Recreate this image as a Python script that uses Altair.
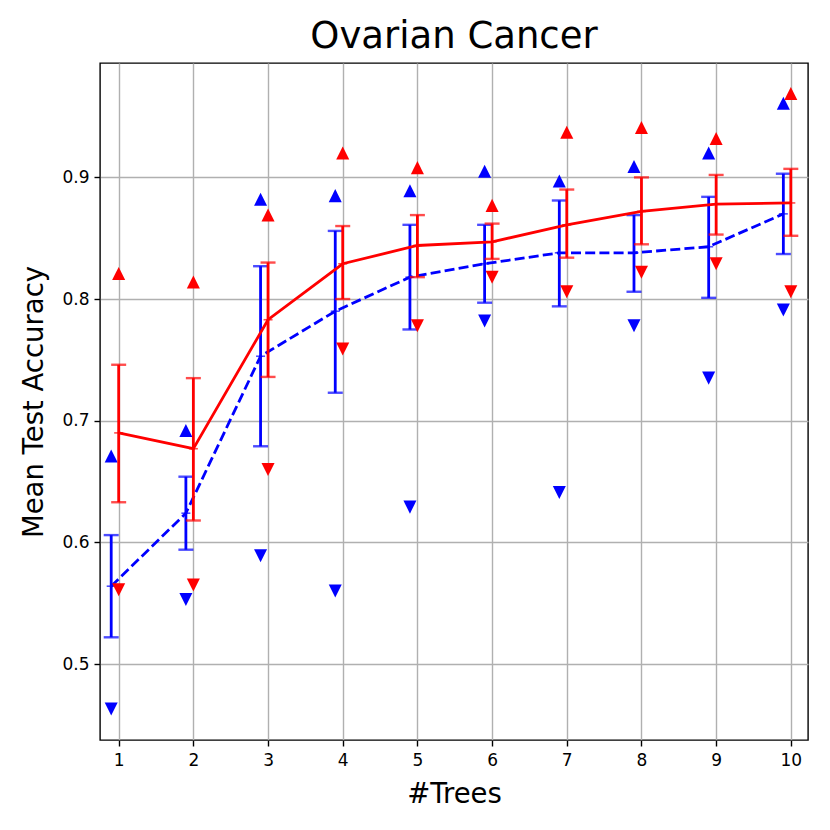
import altair as alt
import pandas as pd

trees = [1, 2, 3, 4, 5, 6, 7, 8, 9, 10]

red_mean = [0.690, 0.677, 0.783, 0.829, 0.844, 0.847, 0.861, 0.872, 0.878, 0.879]
red_lo = [0.633, 0.618, 0.736, 0.800, 0.818, 0.833, 0.834, 0.845, 0.853, 0.852]
red_hi = [0.746, 0.735, 0.830, 0.860, 0.869, 0.862, 0.890, 0.900, 0.902, 0.907]
red_max = [0.821, 0.814, 0.869, 0.920, 0.908, 0.877, 0.937, 0.941, 0.932, 0.969]
red_min = [0.561, 0.565, 0.660, 0.759, 0.778, 0.818, 0.806, 0.822, 0.829, 0.806]

blue_mean = [0.564, 0.624, 0.753, 0.790, 0.818, 0.829, 0.838, 0.838, 0.843, 0.870]
blue_lo = [0.522, 0.594, 0.679, 0.723, 0.775, 0.797, 0.794, 0.806, 0.801, 0.837]
blue_hi = [0.606, 0.654, 0.827, 0.856, 0.861, 0.861, 0.881, 0.869, 0.884, 0.903]
blue_max = [0.671, 0.692, 0.882, 0.885, 0.889, 0.905, 0.897, 0.909, 0.920, 0.961]
blue_min = [0.463, 0.553, 0.589, 0.560, 0.629, 0.782, 0.641, 0.778, 0.735, 0.791]

x_tick_values = [1, 2, 3, 4, 5, 6, 7, 8, 9, 10]
y_tick_values = [0.5, 0.6, 0.7, 0.8, 0.9]

BLUE_SHIFT = -0.1
FONT = "DejaVu Sans"
UP = "M0,-1L-1,1L1,1Z"
DOWN = "M0,1L-1,-1L1,-1Z"

blue_df = pd.DataFrame({
    "x": [t + BLUE_SHIFT for t in trees],
    "mean": blue_mean, "lo": blue_lo, "hi": blue_hi,
    "mx": blue_max, "mn": blue_min,
})
red_df = pd.DataFrame({
    "x": trees,
    "mean": red_mean, "lo": red_lo, "hi": red_hi,
    "mx": red_max, "mn": red_min,
})

xscale = alt.Scale(domain=[0.75, 10.23], nice=False, zero=False)
yscale = alt.Scale(domain=[0.4376, 0.994], nice=False, zero=False)

xaxis = alt.Axis(values=x_tick_values, format="d", title="#Trees", grid=True,
                 titleBaseline="alphabetic", titleY=62, titleX=354)
yaxis = alt.Axis(values=y_tick_values, format=".1f", title="Mean Test Accuracy", grid=True,
                 titleBaseline="alphabetic", titleX=-58, titleY=338.5, titleAngle=270)


def series(df, color, dashed):
    base = alt.Chart(df)
    X = alt.X("x:Q", scale=xscale, axis=xaxis)
    line_kwargs = dict(color=color, strokeWidth=2.8)
    if dashed:
        line_kwargs["strokeDash"] = [10, 4.2]
    line = base.mark_line(**line_kwargs).encode(
        x=X, y=alt.Y("mean:Q", scale=yscale, axis=yaxis))
    bars = base.mark_rule(color=color, strokeWidth=2.8).encode(
        x="x:Q", y="lo:Q", y2="hi:Q")
    cap_lo = base.mark_tick(color=color, orient="horizontal", size=15, thickness=2.4).encode(
        x="x:Q", y="lo:Q")
    cap_hi = base.mark_tick(color=color, orient="horizontal", size=15, thickness=2.4).encode(
        x="x:Q", y="hi:Q")
    mid = base.mark_tick(color=color, orient="horizontal", size=9, thickness=1.6).encode(
        x="x:Q", y="mean:Q")
    up = base.mark_point(shape=UP, filled=True, color=color, size=170, opacity=1).encode(
        x="x:Q", y="mx:Q")
    down = base.mark_point(shape=DOWN, filled=True, color=color, size=170, opacity=1).encode(
        x="x:Q", y="mn:Q")
    return [bars, cap_lo, cap_hi, line, mid, up, down]


layers = series(blue_df, "#0000ff", True) + series(red_df, "#ff0000", False)

chart = alt.layer(*layers).properties(
    width=708,
    height=677,
    autosize="none",
    padding={"left": 92, "top": 55, "right": 14, "bottom": 70},
    title=alt.TitleParams("Ovarian Cancer", fontSize=37, font=FONT, fontWeight="normal",
                          color="black", anchor="middle", offset=7),
).configure_view(
    stroke="black", strokeWidth=1.4
).configure_axis(
    domain=False,
    gridColor="#b0b0b0", gridWidth=1.4, gridOpacity=1,
    tickColor="black", tickWidth=1.4, tickSize=6,
    labelFont=FONT, labelFontSize=17, labelColor="black", labelPadding=5,
    titleFont=FONT, titleFontSize=27.5, titleFontWeight="normal", titleColor="black",
).configure_axisX(labelPadding=6)

chart.save("out.html", embed_options={"renderer": "svg", "actions": False})
